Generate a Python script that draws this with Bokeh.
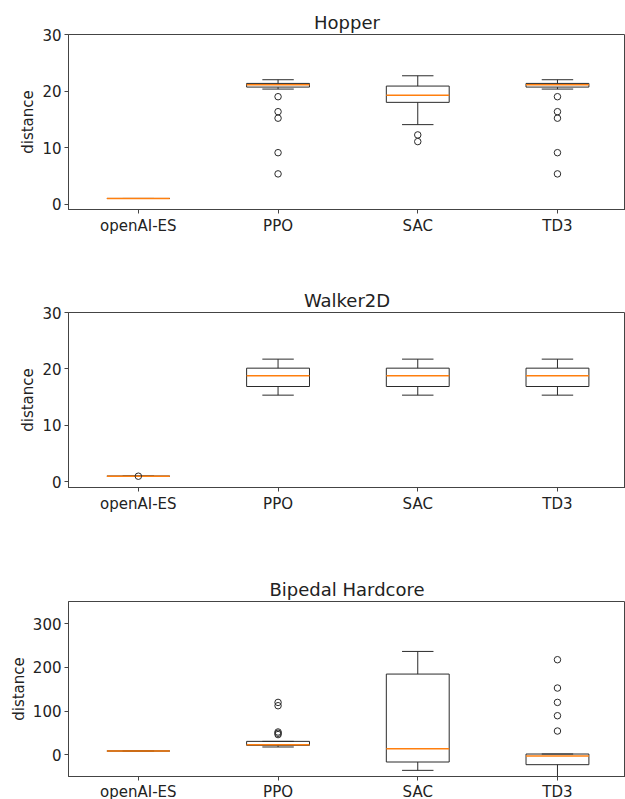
from bokeh.plotting import figure
from bokeh.layouts import column
from bokeh.models import FixedTicker, Range1d
from bokeh.embed import file_html
from bokeh.resources import INLINE

algos = ["openAI-ES", "PPO", "SAC", "TD3"]

# Hopper box statistics
hopper_lo = [1.0, 20.35, 14.06, 20.35]
hopper_q1 = [1.0, 20.70, 18.00, 20.70]
hopper_med = [1.0, 21.10, 19.24, 21.10]
hopper_q3 = [1.0, 21.35, 20.88, 21.35]
hopper_hi = [1.0, 22.00, 22.70, 22.00]
hopper_out = [[], [19.0, 16.35, 15.2, 9.1, 5.35], [12.24, 11.06], [19.0, 16.35, 15.2, 9.1, 5.35]]

# Walker2D box statistics
walker_lo = [1.0, 15.36, 15.36, 15.36]
walker_q1 = [1.0, 16.89, 16.89, 16.89]
walker_med = [1.0, 18.78, 18.78, 18.78]
walker_q3 = [1.0, 20.14, 20.14, 20.14]
walker_hi = [1.0, 21.74, 21.74, 21.74]
walker_out = [[1.0], [], [], []]

# Bipedal Hardcore box statistics
biped_lo = [8.4, 17.6, -35.9, -80.0]
biped_q1 = [8.4, 21.4, -16.8, -22.9]
biped_med = [8.4, 22.9, 13.7, -3.0]
biped_q3 = [8.4, 30.5, 184.7, 1.5]
biped_hi = [8.4, 30.5, 236.6, 1.5]
biped_out = [[], [119.8, 112.2, 52.0, 49.0, 46.0], [], [217.6, 152.7, 119.8, 89.3, 54.2]]

FONT = "DejaVu Sans"
DARK = "#2b2b2b"
SPINE = "#444444"
ORANGE = "#ff7f0e"
BOX_W = 0.45
CAP_W = 0.225


def make_panel(title, lo, q1, med, q3, hi, outs, y_start, y_end, ticks, top_border, bottom_border,
               label_standoff=3):
    xs = list(range(1, len(algos) + 1))
    p = figure(
        title=title,
        frame_width=557,
        frame_height=175,
        x_range=Range1d(0.5, 4.487),
        y_range=Range1d(y_start, y_end),
        output_backend="svg",
        toolbar_location=None,
        min_border_left=68,
        min_border_right=0,
        min_border_top=top_border,
        min_border_bottom=bottom_border,
    )
    p.background_fill_color = "white"
    p.border_fill_color = "white"
    p.xgrid.visible = False
    p.ygrid.visible = False
    p.outline_line_color = SPINE
    p.outline_line_width = 1

    p.title.align = "center"
    p.title.text_font = FONT
    p.title.text_font_size = "18px"
    p.title.text_font_style = "normal"
    p.title.text_color = "#222222"
    p.title.standoff = 4

    for ax in (p.xaxis[0], p.yaxis[0]):
        ax.axis_line_color = SPINE
        ax.major_tick_line_color = SPINE
        ax.major_tick_out = 4
        ax.major_tick_in = 0
        ax.minor_tick_line_color = None
        ax.major_label_text_font = FONT
        ax.major_label_text_font_size = "15px"
        ax.major_label_text_color = "#222222"
        ax.major_label_standoff = 3
    p.xaxis.major_label_standoff = label_standoff

    p.xaxis.ticker = FixedTicker(ticks=xs)
    p.xaxis.major_label_overrides = {x: a for x, a in zip(xs, algos)}
    p.yaxis.ticker = FixedTicker(ticks=ticks)
    p.yaxis.axis_label = "distance"
    p.yaxis.axis_label_text_font = FONT
    p.yaxis.axis_label_text_font_size = "15px"
    p.yaxis.axis_label_text_font_style = "normal"
    p.yaxis.axis_label_text_color = "#222222"
    p.yaxis.axis_label_standoff = 2

    # whiskers
    p.segment(x0=xs, y0=q3, x1=xs, y1=hi, line_color=DARK, line_width=1)
    p.segment(x0=xs, y0=q1, x1=xs, y1=lo, line_color=DARK, line_width=1)
    # caps
    p.segment(x0=[x - CAP_W / 2 for x in xs], y0=hi, x1=[x + CAP_W / 2 for x in xs], y1=hi,
              line_color=DARK, line_width=1)
    p.segment(x0=[x - CAP_W / 2 for x in xs], y0=lo, x1=[x + CAP_W / 2 for x in xs], y1=lo,
              line_color=DARK, line_width=1)
    # boxes
    p.quad(left=[x - BOX_W / 2 for x in xs], right=[x + BOX_W / 2 for x in xs],
           bottom=q1, top=q3, fill_color=None, line_color=DARK, line_width=1)
    # medians
    p.segment(x0=[x - BOX_W / 2 for x in xs], y0=med, x1=[x + BOX_W / 2 for x in xs], y1=med,
              line_color=ORANGE, line_width=1.5)
    # outliers
    ox, oy = [], []
    for x, vals in zip(xs, outs):
        for v in vals:
            ox.append(x)
            oy.append(v)
    if ox:
        p.scatter(ox, oy, marker="circle", size=6.5, fill_color=None,
                  line_color=DARK, line_width=1)
    return p


p1 = make_panel("Hopper", hopper_lo, hopper_q1, hopper_med, hopper_q3, hopper_hi, hopper_out,
                -0.95, 30, [0, 10, 20, 30], 34, 63)
p2 = make_panel("Walker2D", walker_lo, walker_q1, walker_med, walker_q3, walker_hi, walker_out,
                -1.0, 30, [0, 10, 20, 30], 40, 64)
p3 = make_panel("Bipedal Hardcore", biped_lo, biped_q1, biped_med, biped_q3, biped_hi, biped_out,
                -50, 351, [0, 100, 200, 300], 50, 0, label_standoff=2)

layout = column(p1, p2, p3, spacing=0)

open("out.html", "w").write(file_html(layout, INLINE))
